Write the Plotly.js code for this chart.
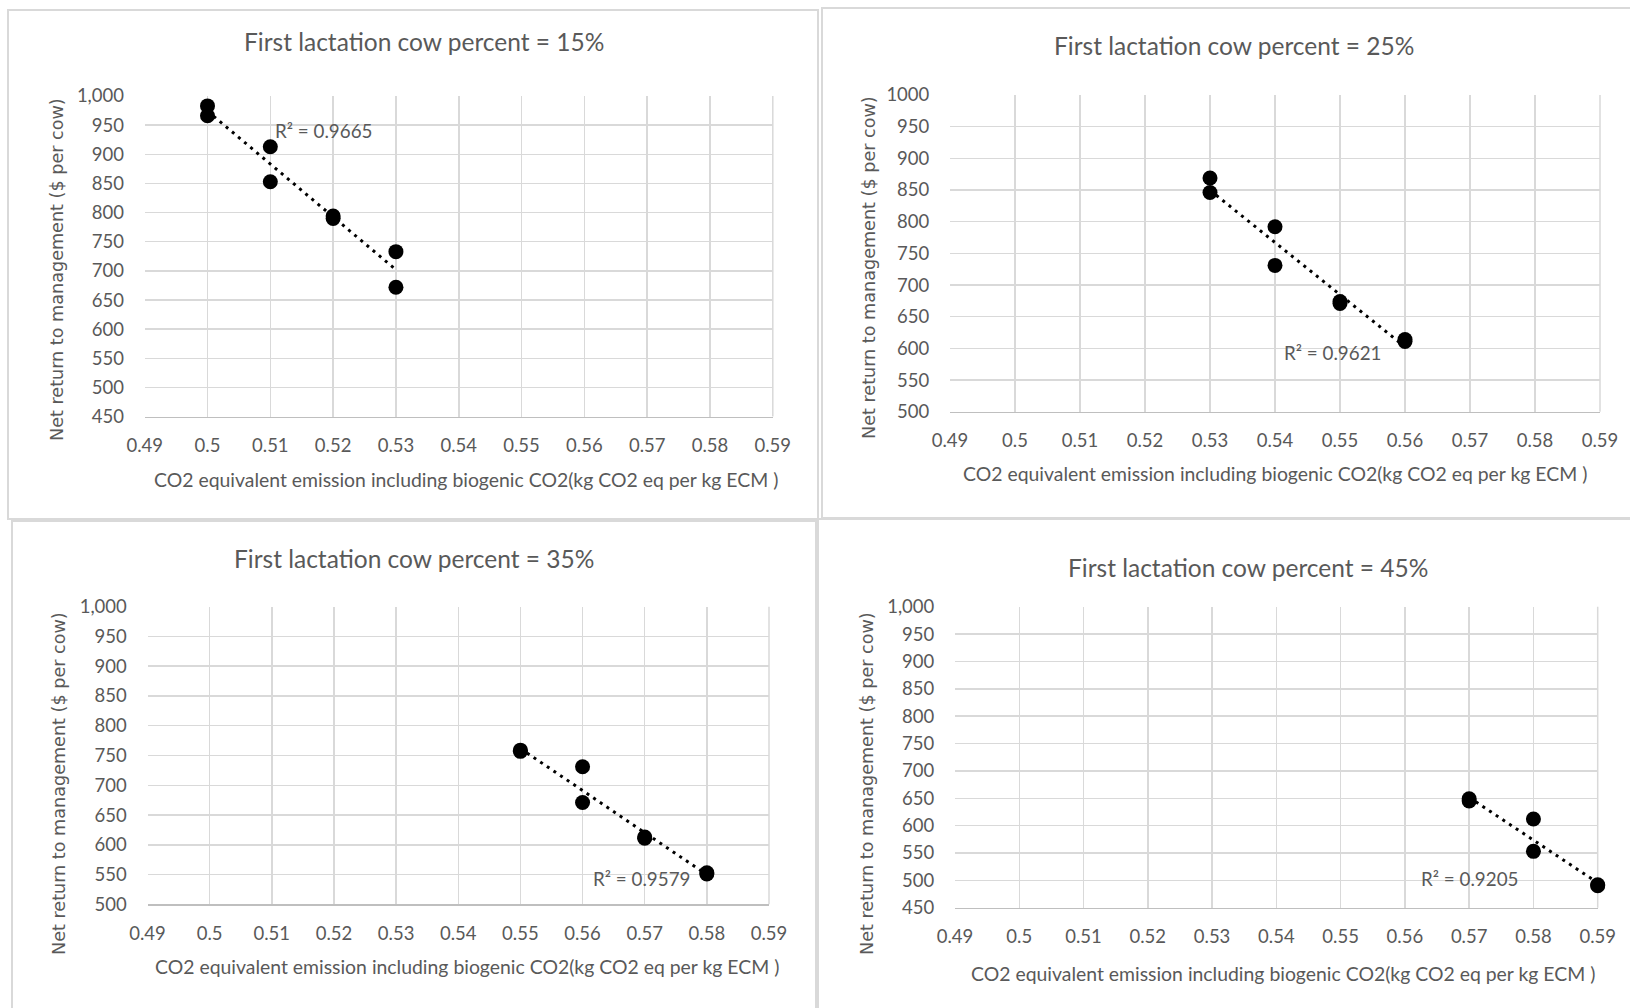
<!DOCTYPE html>
<html>
<head>
<meta charset="utf-8">
<script src="https://cdn.plot.ly/plotly-3.0.1.min.js"></script>
<style>
  html, body { margin: 0; padding: 0; background: #ffffff; }
  #chart { width: 1630px; height: 1008px; }
</style>
</head>
<body>
<div id="chart"></div>
<script>
// Net return to management vs. CO2-equivalent emission intensity,
// one panel per share of first-lactation cows in the herd.

const panelTitles = [
  'First lactation cow percent = 15%',
  'First lactation cow percent = 25%',
  'First lactation cow percent = 35%',
  'First lactation cow percent = 45%'
];

// kg CO2 eq per kg ECM
const emission15 = [0.50, 0.50, 0.51, 0.51, 0.52, 0.52, 0.53, 0.53];
const emission25 = [0.53, 0.53, 0.54, 0.54, 0.55, 0.55, 0.56, 0.56];
const emission35 = [0.55, 0.55, 0.56, 0.56, 0.57, 0.57, 0.58, 0.58];
const emission45 = [0.57, 0.57, 0.58, 0.58, 0.59, 0.59];

// $ per cow
const netReturn15 = [983, 966, 913, 853, 794, 790, 733, 672];
const netReturn25 = [869, 846, 792, 731, 674, 671, 614, 611];
const netReturn35 = [759, 757, 731, 671, 613, 611, 553, 551];
const netReturn45 = [649, 645, 612, 553, 492, 490];

const rSquaredLabels = ['R² = 0.9665', 'R² = 0.9621', 'R² = 0.9579', 'R² = 0.9205'];

const xTickVals = [0.49, 0.50, 0.51, 0.52, 0.53, 0.54, 0.55, 0.56, 0.57, 0.58, 0.59];
const xTickText = ['0.49', '0.5', '0.51', '0.52', '0.53', '0.54', '0.55', '0.56', '0.57', '0.58', '0.59'];

const yRanges = [[450, 1000], [500, 1000], [500, 1000], [450, 1000]];
const yTickFormats = [',d', 'd', ',d', ',d'];

const xAxisTitle = 'CO2 equivalent emission including biogenic CO2(kg CO2 eq per kg ECM )';
const yAxisTitle = 'Net return to management ($ per cow)';

const series = [
  [emission15, netReturn15],
  [emission25, netReturn25],
  [emission35, netReturn35],
  [emission45, netReturn45]
];

// ---- page geometry (pixels on a 1630 x 1008 page) ----
const W = 1630, H = 1008;
const plotBoxes = [          // [left, top, right, bottom] of each plotting area
  [144.7, 96.0, 772.8, 416.6],
  [950.0, 95.0, 1600.0, 411.7],
  [147.5, 606.7, 769.0, 904.3],
  [955.0, 606.7, 1597.7, 907.7]
];
const frames = [             // outer chart borders
  [8, 10, 818, 519],
  [822, 8, 1640, 518],
  [12, 521, 816, 1015],
  [818, 519, 1640, 1015]
];
const titlePos = [[424, 41.5], [1234, 45.5], [414, 558], [1248, 567.5]];
const xTitlePos = [[466, 479], [1275, 473], [467, 966.5], [1283, 973]];
const yTitlePos = [[57, 270], [869, 268], [59, 784], [867, 784]];
const rSqPos = [[273, 130], [1282, 352], [591, 878], [1419, 878]];

const px = x => x / W;
const py = y => 1 - y / H;

const textGrey = '#595959';
const gridGrey = '#d9d9d9';
const mainFont = 'Lato, "Open Sans", sans-serif';

// Ordinary least-squares line over a panel's points
function fitLine(xs, ys) {
  const n = xs.length;
  const mx = xs.reduce((a, b) => a + b, 0) / n;
  const my = ys.reduce((a, b) => a + b, 0) / n;
  let sxy = 0, sxx = 0;
  for (let i = 0; i < n; i++) {
    sxy += (xs[i] - mx) * (ys[i] - my);
    sxx += (xs[i] - mx) * (xs[i] - mx);
  }
  const slope = sxy / sxx;
  const intercept = my - slope * mx;
  const x0 = Math.min(...xs), x1 = Math.max(...xs);
  return { x: [x0, x1], y: [intercept + slope * x0, intercept + slope * x1] };
}

const traces = [];
const layout = {
  width: W,
  height: H,
  margin: { l: 0, r: 0, t: 0, b: 0 },
  paper_bgcolor: '#ffffff',
  plot_bgcolor: '#ffffff',
  showlegend: false,
  hovermode: false,
  annotations: [],
  shapes: []
};

series.forEach(([xs, ys], i) => {
  const n = i + 1;
  const xa = n === 1 ? 'x' : 'x' + n;
  const ya = n === 1 ? 'y' : 'y' + n;
  const fit = fitLine(xs, ys);

  traces.push({
    type: 'scatter', mode: 'lines',
    x: fit.x, y: fit.y,
    xaxis: xa, yaxis: ya,
    cliponaxis: false,
    line: { color: '#000000', width: 3, dash: '3px,5px' }
  });
  traces.push({
    type: 'scatter', mode: 'markers',
    x: xs, y: ys,
    xaxis: xa, yaxis: ya,
    cliponaxis: false,
    marker: { color: '#000000', size: 15, line: { width: 0 } }
  });

  const [l, t, r, b] = plotBoxes[i];
  layout['xaxis' + (n === 1 ? '' : n)] = {
    domain: [px(l), px(r)],
    anchor: ya,
    range: [0.49, 0.59],
    tickmode: 'array',
    tickvals: xTickVals,
    ticktext: xTickText,
    showgrid: true,
    gridcolor: gridGrey,
    gridwidth: 1.5,
    zeroline: false,
    showline: true,
    linecolor: '#bfbfbf',
    linewidth: 1.5,
    mirror: false,
    ticks: 'outside',
    ticklen: 12,
    tickcolor: 'rgba(0,0,0,0)',
    tickfont: { family: mainFont, size: 18.5, color: textGrey },
    fixedrange: true
  };
  layout['yaxis' + (n === 1 ? '' : n)] = {
    domain: [py(b), py(t)],
    anchor: xa,
    range: yRanges[i],
    dtick: 50,
    tick0: 0,
    tickformat: yTickFormats[i],
    showgrid: true,
    gridcolor: gridGrey,
    gridwidth: 1.5,
    zeroline: false,
    showline: false,
    ticks: 'outside',
    ticklen: 16,
    tickcolor: 'rgba(0,0,0,0)',
    tickfont: { family: mainFont, size: 18.5, color: textGrey },
    fixedrange: true
  };

  // right-hand edge of the plotting area
  layout.shapes.push({
    type: 'line', xref: 'paper', yref: 'paper',
    x0: px(r), x1: px(r), y0: py(b), y1: py(t),
    line: { color: gridGrey, width: 1.5 },
    layer: 'below'
  });

  const [fl, ft, fr, fb] = frames[i];
  layout.shapes.push({
    type: 'rect', xref: 'paper', yref: 'paper',
    x0: px(fl), x1: px(fr), y0: py(fb), y1: py(ft),
    line: { color: '#d9d9d9', width: 2 },
    layer: 'below'
  });

  layout.annotations.push({
    xref: 'paper', yref: 'paper',
    x: px(titlePos[i][0]), y: py(titlePos[i][1]),
    xanchor: 'center', yanchor: 'middle', showarrow: false,
    text: panelTitles[i],
    font: { family: mainFont, size: 24.5, color: textGrey }
  });
  layout.annotations.push({
    xref: 'paper', yref: 'paper',
    x: px(xTitlePos[i][0]), y: py(xTitlePos[i][1]),
    xanchor: 'center', yanchor: 'middle', showarrow: false,
    text: xAxisTitle,
    font: { family: mainFont, size: 19.4, color: textGrey }
  });
  layout.annotations.push({
    xref: 'paper', yref: 'paper',
    x: px(yTitlePos[i][0]), y: py(yTitlePos[i][1]),
    xanchor: 'center', yanchor: 'middle', showarrow: false,
    textangle: -90,
    text: yAxisTitle,
    font: { family: '"DejaVu Sans", sans-serif', size: 17.6, color: textGrey }
  });
  layout.annotations.push({
    xref: 'paper', yref: 'paper',
    x: px(rSqPos[i][0]), y: py(rSqPos[i][1]),
    xanchor: 'left', yanchor: 'middle', showarrow: false,
    text: rSquaredLabels[i],
    font: { family: mainFont, size: 18.8, color: textGrey }
  });
});

Plotly.newPlot('chart', traces, layout, { displayModeBar: false, staticPlot: true });
</script>
</body>
</html>
